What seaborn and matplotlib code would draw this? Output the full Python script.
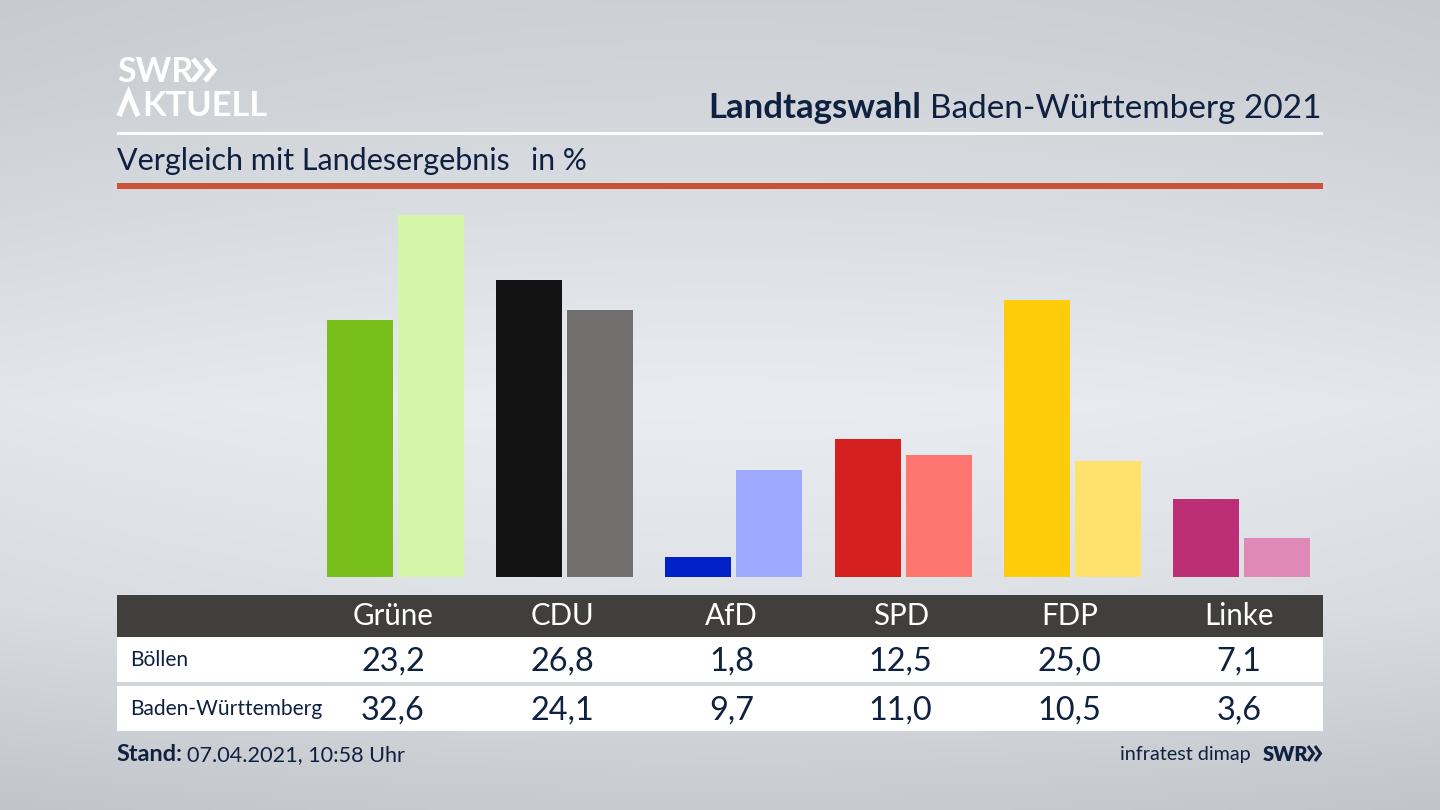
import numpy as np
import pandas as pd
import matplotlib
matplotlib.use('Agg')
import matplotlib.pyplot as plt
import seaborn as sns
from matplotlib.patches import Rectangle

parties = ['Grüne', 'CDU', 'AfD', 'SPD', 'FDP', 'Linke']
boellen = [23.2, 26.8, 1.8, 12.5, 25.0, 7.1]
land = [32.6, 24.1, 9.7, 11.0, 10.5, 3.6]
colors_boellen = ['#78BE1A', '#131313', '#0021C8', '#D61F1F', '#FFCC0A', '#BC2F77']
colors_land = ['#D5F5A8', '#71706E', '#9DAAFF', '#FF7570', '#FFE16E', '#DF89B7']
rows = ['Böllen', 'Baden-Württemberg']

W, H = 1440, 810
NAVY = '#0F2140'


def px(size):
    # pixel height to points at dpi 100
    return size * 0.72


sns.set_theme(style='white')
plt.rcParams['font.family'] = ['Lato', 'DejaVu Sans']

fig = plt.figure(figsize=(W / 100, H / 100), dpi=100)

# background and all the furniture in pixel coordinates
bg = fig.add_axes([0, 0, 1, 1])
bg.set_xlim(0, W)
bg.set_ylim(H, 0)
bg.axis('off')

yy = np.linspace(0, 1, 200)
xx = np.linspace(-1, 1, 300)
vert = np.interp(yy, [0, 0.12, 0.5, 0.75, 1], [205, 210, 233, 222, 199])
shade = vert[:, None] - 6 * xx[None, :] ** 2
grad = np.dstack([shade, shade + 3, shade + 8]).clip(0, 255) / 255
bg.imshow(grad, extent=[0, W, H, 0], aspect='auto', zorder=0)

# logo, the A has no crossbar so it is drawn
bg.text(117, 82, 'SWR', color='white', fontsize=px(34), fontweight='bold', va='baseline')
for x0 in (193, 205):
    bg.plot([x0, x0 + 9, x0], [59, 70, 81], color='white', lw=3.6, solid_joinstyle='miter',
            solid_capstyle='butt')
bg.plot([119, 128.5, 138], [116, 93, 116], color='white', lw=3.8, solid_joinstyle='miter',
        solid_capstyle='butt')
bg.text(142, 116, 'KTUELL', color='white', fontsize=px(34.4), fontweight='bold', va='baseline')

# header
bg.text(1322, 118.5, 'Baden-Württemberg 2021', color=NAVY, fontsize=px(33.4), ha='right', va='baseline')
bg.text(921, 118.5, 'Landtagswahl', color=NAVY, fontsize=px(34.8), fontweight='bold', ha='right', va='baseline')
bg.add_patch(Rectangle((117, 132), 1206, 3, color='white', lw=0))
bg.text(117, 170, 'Vergleich mit Landesergebnis', color=NAVY, fontsize=px(30.5), va='baseline')
bg.text(531, 170, 'in %', color=NAVY, fontsize=px(30), va='baseline')
bg.add_patch(Rectangle((117, 183), 1206, 6, color='#CB5238', lw=0))

# table
bg.add_patch(Rectangle((117, 595), 1206, 42, color='#403F3D', lw=0))
bg.add_patch(Rectangle((117, 637), 1206, 45, color='white', lw=0))
bg.add_patch(Rectangle((117, 686), 1206, 45, color='white', lw=0))
col_x = [393 + 169.2 * i for i in range(len(parties))]
for x, party, v1, v2 in zip(col_x, parties, boellen, land):
    bg.text(x, 625, party, color='white', fontsize=px(29.5), ha='center', va='baseline')
    bg.text(x, 671, f'{v1:.1f}'.replace('.', ','), color=NAVY, fontsize=px(32.5), ha='center', va='baseline')
    bg.text(x, 720, f'{v2:.1f}'.replace('.', ','), color=NAVY, fontsize=px(32.5), ha='center', va='baseline')
bg.text(130, 666, rows[0], color=NAVY, fontsize=px(21), va='baseline')
bg.text(130, 715, rows[1], color=NAVY, fontsize=px(21), va='baseline')

# footer
bg.text(116.5, 761, 'Stand:', color=NAVY, fontsize=px(23.5), fontweight='bold', va='baseline')
bg.text(187, 761, '07.04.2021, 10:58 Uhr', color=NAVY, fontsize=px(21.6), va='baseline')
bg.text(1251, 760, 'infratest dimap', color=NAVY, fontsize=px(19.8), ha='right', va='baseline')
bg.text(1263, 761, 'SWR', color=NAVY, fontsize=px(20), fontweight='heavy', va='baseline')
for x0 in (1308, 1315):
    bg.plot([x0, x0 + 5.5, x0], [746, 753.5, 761], color=NAVY, lw=2.2, solid_joinstyle='miter',
            solid_capstyle='butt')

# bars
df = pd.DataFrame({
    'party': parties * 2,
    'value': boellen + land,
    'region': [rows[0]] * len(parties) + [rows[1]] * len(parties),
})
left, right, top, bottom = 310.9, 1326.1, 215.4, 577.49
ax = fig.add_axes([left / W, 1 - bottom / H, (right - left) / W, (bottom - top) / H])
ax.patch.set_alpha(0)
sns.barplot(data=df, x='party', y='value', hue='region', order=parties, hue_order=rows,
            width=0.84, gap=0.07, legend=False, saturation=1, ax=ax)
for container, cols in zip(ax.containers, (colors_boellen, colors_land)):
    for bar, c in zip(container, cols):
        bar.set_facecolor(c)
        bar.set_edgecolor('none')
ax.set_xlim(-0.5, 5.5)
ax.set_ylim(0, max(land))
ax.axis('off')

fig.savefig('out.png', dpi=100)
